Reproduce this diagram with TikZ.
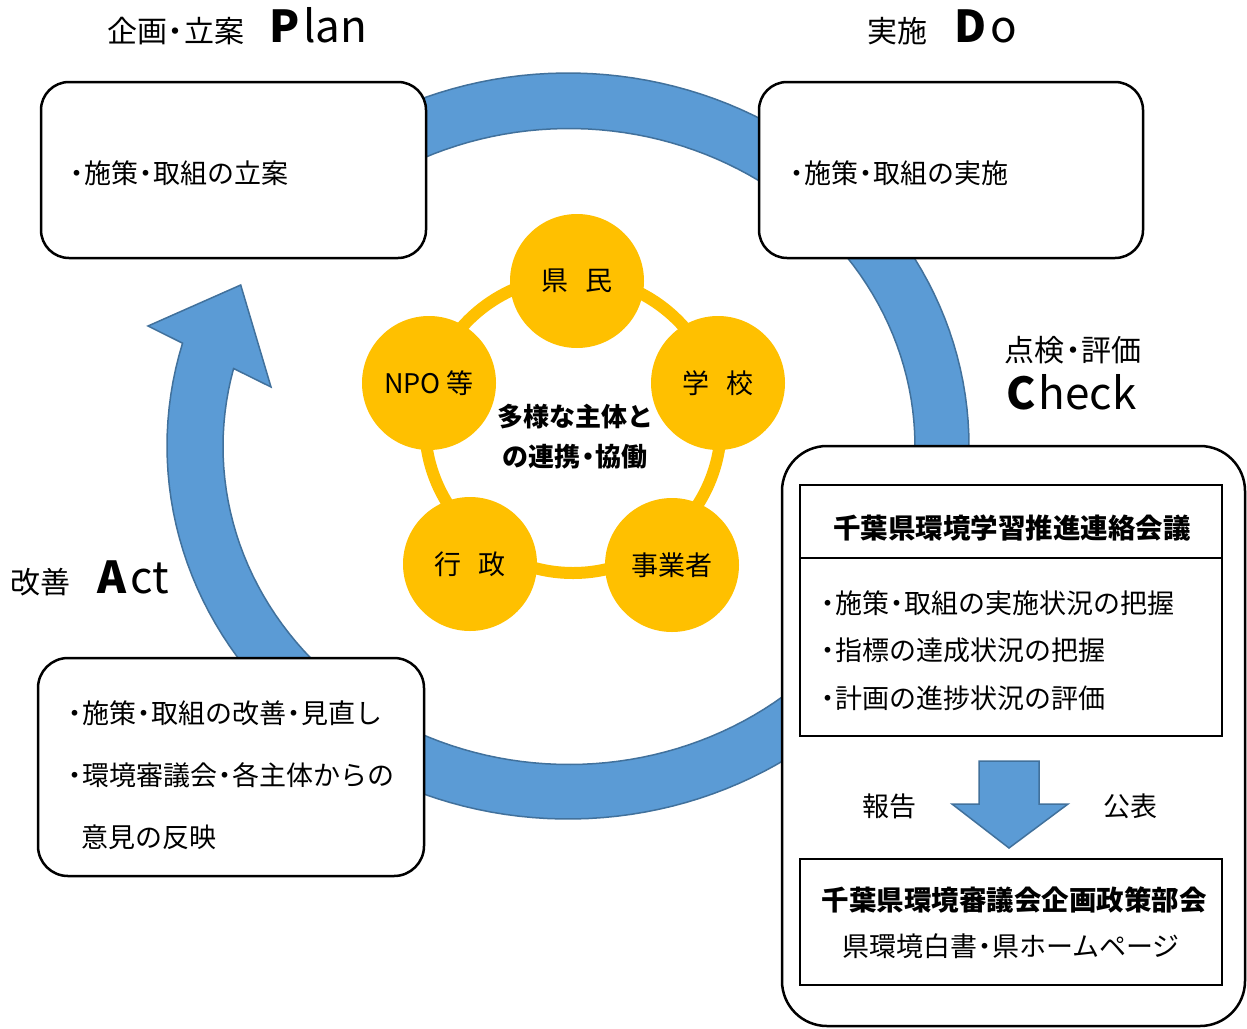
\documentclass[tikz,border=0pt]{standalone}
\usepackage{fontspec}
\setmainfont{Noto Sans CJK JP}
\newcommand\nk{\kern-0.22em・\kern-0.22em}
\definecolor{bandblue}{HTML}{5B9BD5}
\definecolor{bandedge}{HTML}{41719C}
\definecolor{gold}{HTML}{FFC000}
\tikzset{
  rbox/.style={draw=black, line width=2.5pt, fill=white, rounded corners=28pt, inner sep=0pt},
  sbox/.style={draw=black, line width=2.5pt, fill=white, inner sep=0pt},
  band/.style={fill=bandblue, draw=bandedge, line width=1.5pt, line join=miter},
  who/.style={circle, fill=gold, minimum size=134pt, inner sep=0pt, font=\fontsize{27}{32}\selectfont},
  ring/.style={draw=gold, line width=12pt},
  body/.style={inner sep=0pt, anchor=west, font=\fontsize{27}{32}\selectfont},
  ctext/.style={inner sep=0pt, font=\fontsize{27}{32}\selectfont},
  head/.style={inner sep=0pt, font=\fontsize{27.5}{32}\selectfont\bfseries},
  phase/.style={inner sep=0pt, anchor=base west, font=\fontsize{30}{36}\selectfont},
}
\newcommand\latinbig{\fontsize{44}{50}\selectfont}
\begin{document}
\begin{tikzpicture}[x=1pt,y=-1pt]
\useasboundingbox (0,0) rectangle (1247,1028);
\fill[white] (0,0) rectangle (1247,1028);
% PDCA band with arrow head
\filldraw[band] plot[domain=125:-196,samples=160] ({568+401*cos(\x)},{446-373*sin(\x)})
  -- (148,326) -- (240.7,285) -- (271,387)
  -- plot[domain=-194.2:125,samples=160] ({569+346*cos(\x)},{446.5-318*sin(\x)}) -- cycle;
% boxes
\node[rbox, minimum width=385pt, minimum height=176pt] (plan) at (233.5,170) {};
\node[rbox, minimum width=384pt, minimum height=176pt] (do) at (951,170) {};
\node[rbox, minimum width=386pt, minimum height=218pt, rounded corners=30pt] (act) at (231,767) {};
\node[rbox, minimum width=463pt, minimum height=580pt, rounded corners=45pt] (check) at (1013.5,736) {};
\node[sbox, minimum width=422pt, minimum height=73pt] (council) at (1011,521.5) {};
\node[sbox, minimum width=422pt, minimum height=178pt] (tasks) at (1011,647) {};
\node[sbox, minimum width=422pt, minimum height=126pt] (board) at (1011,922) {};
% down block arrow
\filldraw[band] (979,761) -- (1039,761) -- (1039,804) -- (1068,804) -- (1009,848) -- (952,804) -- (979,804) -- cycle;
% collaboration ring
\draw[ring] (573,425) circle[radius=148];
\node[who] (kenmin) at (577,281) {県\hspace{0.6em}民};
\node[who] (gakkou) at (718,383) {学\hspace{0.6em}校};
\node[who] (jigyo) at (672,565) {事業者};
\node[who] (gyosei) at (470,564) {行\hspace{0.6em}政};
\node[who] (npo) at (429,383) {NPO 等};
\node[inner sep=0pt, align=center, font=\fontsize{26}{40}\selectfont\bfseries] (collab) at (575,437) {多様な主体と\\の連携\nk 協働};
% texts
\node[body] (plantext) at (69,173) {\nk 施策\nk 取組の立案};
\node[body] (dotext) at (789,173) {\nk 施策\nk 取組の実施};
\node[body] (act1) at (67,713) {\nk 施策\nk 取組の改善\nk 見直し};
\node[body] (act2) at (67,775) {\nk 環境審議会\nk 各主体からの};
\node[body] (act3) at (81,837) {意見の反映};
\node[head] (counciltitle) at (1012,528) {千葉県環境学習推進連絡会議};
\node[body] (t1) at (820,603) {\nk 施策\nk 取組の実施状況の把握};
\node[body] (t2) at (820,650) {\nk 指標の達成状況の把握};
\node[body] (t3) at (820,698) {\nk 計画の進捗状況の評価};
\node[ctext] (report) at (889,806) {報告};
\node[ctext] (publish) at (1130,806) {公表};
\node[head] (boardtitle) at (1014,900) {千葉県環境審議会企画政策部会};
\node[ctext] (boardsub) at (1011,946) {県環境白書\nk 県ホームページ};
% phase titles
\node[phase] (plantitle) at (107,42) {企画\nk 立案\hspace{25pt}{\latinbig\textbf{P}\hspace{4pt}lan}};
\node[phase] (dotitle) at (867,42) {実施\hspace{27pt}{\latinbig\textbf{D}\hspace{4pt}o}};
\node[inner sep=0pt, font=\fontsize{30}{36}\selectfont] (checkjp) at (1073,350) {点検\nk 評価};
\node[inner sep=0pt, anchor=base west, font=\latinbig] (checken) at (1006,409) {\textbf{C}\hspace{3pt}heck};
\node[phase] (acttitle) at (10,593) {改善\hspace{27pt}{\latinbig\textbf{A}\hspace{4pt}ct}};
\end{tikzpicture}
\end{document}
